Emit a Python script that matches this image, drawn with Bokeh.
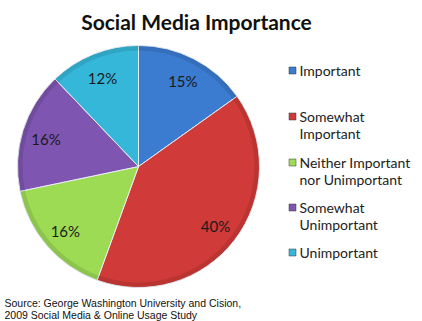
import math
from bokeh.plotting import figure
from bokeh.models import Range1d, ColumnDataSource
from bokeh.core.properties import value
from bokeh.embed import file_html
from bokeh.resources import INLINE

# ---- data ----
categories = ["Important", "Somewhat\nImportant", "Neither Important\nnor Unimportant",
              "Somewhat\nUnimportant", "Unimportant"]
shares = [15, 40, 16, 16, 12]
colors = ["#3B7BD0", "#D03A38", "#9EDB55", "#7E55B0", "#35B7DA"]
title_text = "Social Media Importance"
source_lines = ["Source: George Washington University and Cision,",
                "2009 Social Media & Online Usage Study"]

W, H = 422, 321
p = figure(width=W, height=H, output_backend="svg", toolbar_location=None,
           x_range=Range1d(0, W), y_range=Range1d(0, H), min_border=0)
p.axis.visible = False
p.grid.visible = False
p.outline_line_color = None
p.background_fill_color = "white"
p.border_fill_color = "white"

def Y(py):
    return H - py

cx, cy, r = 138, Y(166), 121
total = float(sum(shares))
starts, ends, lx, ly, labels = [], [], [], [], []
cum = 0.0
for v in shares:
    a0 = math.pi / 2 - cum / total * 2 * math.pi
    cum += v
    a1 = math.pi / 2 - cum / total * 2 * math.pi
    starts.append(a0)
    ends.append(a1)
    mid = (a0 + a1) / 2
    lx.append(cx + 0.8 * r * math.cos(mid))
    ly.append(cy + 0.8 * r * math.sin(mid) - 1)
    labels.append(f"{v}%")

src = ColumnDataSource(dict(start=starts, end=ends, color=colors, lx=lx, ly=ly, label=labels))
p.wedge(x=cx, y=cy, radius=r, start_angle="start", end_angle="end", direction="clock",
        fill_color="color", line_color="#E8EEF6", line_width=1, source=src)
# subtle rim shading
p.annular_wedge(x=cx, y=cy, inner_radius=r - 5, outer_radius=r, start_angle="start", end_angle="end",
                direction="clock", fill_color="black", fill_alpha=0.10, line_color=None, source=src)
p.text(x="lx", y="ly", text="label", source=src, text_font=value("Lato"), text_font_size="15px",
       text_align="center", text_baseline="middle", text_color="#1a1a1a")

# title
p.text(x=[196], y=[Y(21)], text=[title_text], text_font=value("Lato"), text_font_style="bold",
       text_font_size="21px", text_align="center", text_baseline="middle", text_color="#111111")

# legend
leg_y = [70, 116, 162, 207, 252]
for cat, col, py in zip(categories, colors, leg_y):
    p.rect(x=[292], y=[Y(py)], width=7, height=7, fill_color=col, line_color="#3a3a3a", line_width=0.5)
p.text(x=[299] * 5, y=[Y(py - 9) for py in leg_y], text=categories, text_font=value("Lato"),
       text_font_size="14px", text_align="left", text_baseline="top", text_color="#222222",
       text_line_height=1.05)

# source
p.text(x=[4, 4], y=[Y(302), Y(314)], text=source_lines, text_font=value("Liberation Sans"),
       text_font_size="10.5px", text_align="left", text_baseline="middle", text_color="#111111")

open("out.html", "w").write(file_html(p, INLINE))
